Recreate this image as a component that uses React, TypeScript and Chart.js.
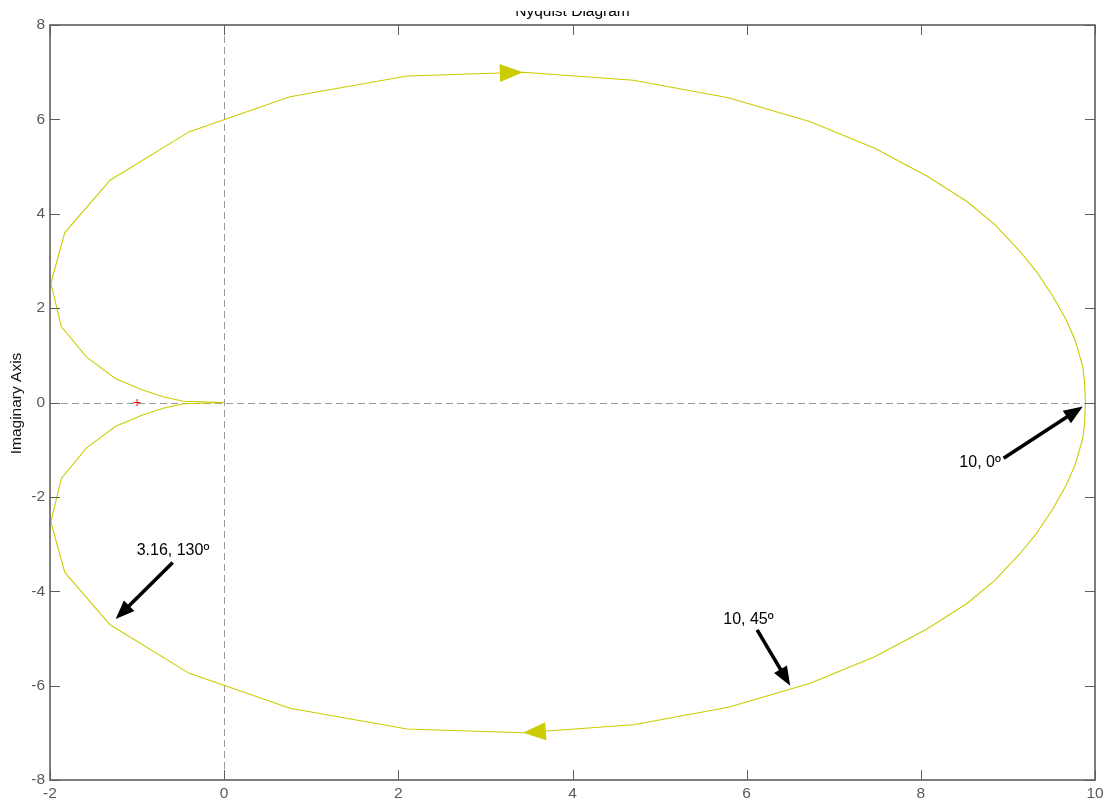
import { useEffect, useRef } from 'react';
import { Chart, registerables } from 'chart.js';

Chart.register(...registerables);

// Axis ticks
const X_TICKS = [-2, 0, 2, 4, 6, 8, 10];
const Y_TICKS = [-8, -6, -4, -2, 0, 2, 4, 6, 8];

// Frequency response G(jω), ω from 0 upward (real and imaginary parts)
const RE_POS = [
  9.89, 9.88, 9.86, 9.77, 9.67, 9.52, 9.33, 9.14, 8.85, 8.53, 8.07, 7.47, 6.73, 5.79, 4.7,
  3.43, 2.1, 0.756, -0.4, -1.31, -1.83, -1.99, -1.87, -1.58, -1.25, -0.945, -0.7, -0.467, 0,
];
const IM_POS = [
  0, -0.44, -0.76, -1.33, -1.75, -2.24, -2.77, -3.2, -3.77, -4.26, -4.8, -5.39, -5.95, -6.46,
  -6.83, -7.0, -6.92, -6.48, -5.74, -4.71, -3.6, -2.53, -1.61, -0.96, -0.51, -0.27, -0.12,
  -0.026, 0,
];

// Critical point -1 + j0
const CRITICAL_RE = [-1];
const CRITICAL_IM = [0];

// Callouts: label, label centre, arrow tail, arrow tip (in data units)
const NOTE_TEXT = ['10, 0º', '10, 45º', '3.16, 130º'];
const NOTE_AT = [[8.68, -1.28], [6.02, -4.61], [-0.588, -3.14]];
const NOTE_TAIL = [[8.95, -1.18], [6.12, -4.82], [-0.591, -3.39]];
const NOTE_TIP = [[9.86, -0.087], [6.5, -6.0], [-1.246, -4.59]];

const CURVE = '#cccc00';
const AXIS = '#5e5e5e';
const TICK_TEXT = '#5a5a5a';
const FONT = "'Liberation Sans', Arial, Helvetica, sans-serif";

type P = { x: number; y: number };

const posBranch: P[] = RE_POS.map((x, i) => ({ x, y: IM_POS[i] }));
// negative frequencies give the complex conjugate, traversed back towards ω = 0
const negBranch: P[] = posBranch
  .slice()
  .reverse()
  .map((p) => ({ x: p.x, y: -p.y }));
const nyquistPath: P[] = [...posBranch, ...negBranch.slice(1)];

// direction markers sit at the point of largest |Im|
let peak = 0;
IM_POS.forEach((v, i) => {
  if (Math.abs(v) > Math.abs(IM_POS[peak])) peak = i;
});

function fillTriangle(
  ctx: CanvasRenderingContext2D,
  tx: number,
  ty: number,
  fx: number,
  fy: number,
  len: number,
  half: number,
  color: string
) {
  const dx = tx - fx;
  const dy = ty - fy;
  const d = Math.hypot(dx, dy) || 1;
  const ux = dx / d;
  const uy = dy / d;
  const bx = tx - ux * len;
  const by = ty - uy * len;
  ctx.beginPath();
  ctx.moveTo(tx, ty);
  ctx.lineTo(bx - uy * half, by + ux * half);
  ctx.lineTo(bx + uy * half, by - ux * half);
  ctx.closePath();
  ctx.fillStyle = color;
  ctx.fill();
}

const nyquistDecor = {
  id: 'nyquistDecor',
  beforeDatasetsDraw(chart: any) {
    const { ctx, chartArea: a, scales } = chart;
    const xs = scales.x;
    const ys = scales.y;
    ctx.save();
    ctx.beginPath();
    ctx.rect(a.left, a.top, a.right - a.left, a.bottom - a.top);
    ctx.clip();
    ctx.strokeStyle = '#9a9a9a';
    ctx.lineWidth = 1;
    ctx.setLineDash([7, 4]);
    const x0 = Math.round(xs.getPixelForValue(0)) + 0.5;
    const y0 = Math.round(ys.getPixelForValue(0)) + 0.5;
    ctx.beginPath();
    ctx.moveTo(x0, a.top);
    ctx.lineTo(x0, a.bottom);
    ctx.moveTo(a.left, y0);
    ctx.lineTo(a.right, y0);
    ctx.stroke();
    ctx.restore();
  },
  afterDatasetsDraw(chart: any) {
    const { ctx, scales } = chart;
    const xs = scales.x;
    const ys = scales.y;
    const px = (p: P) => [xs.getPixelForValue(p.x), ys.getPixelForValue(p.y)];

    // direction of travel along the contour
    const tipA = px(posBranch[peak]);
    const fromA = px(posBranch[peak - 1]);
    fillTriangle(ctx, tipA[0], tipA[1], fromA[0], fromA[1], 23, 9, CURVE);
    const tipB = px({ x: posBranch[peak].x, y: -posBranch[peak].y });
    const fromB = px({ x: posBranch[peak + 1].x, y: -posBranch[peak + 1].y });
    fillTriangle(ctx, tipB[0], tipB[1], fromB[0], fromB[1], 23, 9, CURVE);

    // callouts
    ctx.save();
    NOTE_TEXT.forEach((text, i) => {
      const [tx, ty] = px({ x: NOTE_TIP[i][0], y: NOTE_TIP[i][1] });
      const [sx, sy] = px({ x: NOTE_TAIL[i][0], y: NOTE_TAIL[i][1] });
      const d = Math.hypot(tx - sx, ty - sy);
      const ux = (tx - sx) / d;
      const uy = (ty - sy) / d;
      ctx.strokeStyle = '#000';
      ctx.lineWidth = 3.6;
      ctx.lineCap = 'butt';
      ctx.beginPath();
      ctx.moveTo(sx, sy);
      ctx.lineTo(tx - ux * 14, ty - uy * 14);
      ctx.stroke();
      fillTriangle(ctx, tx, ty, sx, sy, 19, 7.5, '#000');
      const [lx, ly] = px({ x: NOTE_AT[i][0], y: NOTE_AT[i][1] });
      ctx.fillStyle = '#000';
      ctx.font = `16px ${FONT}`;
      ctx.textAlign = 'center';
      ctx.textBaseline = 'middle';
      ctx.fillText(text, lx, ly);
    });
    ctx.restore();
  },
  afterDraw(chart: any) {
    const { ctx, chartArea: a, scales } = chart;
    const xs = scales.x;
    const ys = scales.y;
    ctx.save();
    // frame
    ctx.strokeStyle = AXIS;
    ctx.lineWidth = 1.6;
    ctx.strokeRect(a.left, a.top, a.right - a.left, a.bottom - a.top);
    // inward tick marks on all four sides
    ctx.lineWidth = 1;
    ctx.beginPath();
    X_TICKS.forEach((v) => {
      const x = Math.round(xs.getPixelForValue(v)) + 0.5;
      ctx.moveTo(x, a.bottom);
      ctx.lineTo(x, a.bottom - 10);
      ctx.moveTo(x, a.top);
      ctx.lineTo(x, a.top + 10);
    });
    Y_TICKS.forEach((v) => {
      const y = Math.round(ys.getPixelForValue(v)) + 0.5;
      ctx.moveTo(a.left, y);
      ctx.lineTo(a.left + 10, y);
      ctx.moveTo(a.right, y);
      ctx.lineTo(a.right - 10, y);
    });
    ctx.stroke();
    ctx.restore();

    // title (top of the figure is trimmed)
    ctx.save();
    ctx.beginPath();
    ctx.rect(0, 11, chart.width, chart.height);
    ctx.clip();
    ctx.fillStyle = '#000';
    ctx.font = `15.5px ${FONT}`;
    ctx.textAlign = 'center';
    ctx.textBaseline = 'alphabetic';
    ctx.fillText('Nyquist Diagram', (a.left + a.right) / 2, 16);
    ctx.restore();

    // y-axis title
    ctx.save();
    ctx.translate(16.5, (a.top + a.bottom) / 2 + 1);
    ctx.rotate(-Math.PI / 2);
    ctx.fillStyle = '#111';
    ctx.font = `15.5px ${FONT}`;
    ctx.textAlign = 'center';
    ctx.textBaseline = 'middle';
    ctx.fillText('Imaginary Axis', 0, 0);
    ctx.restore();
  },
};

export default function App() {
  const ref = useRef<HTMLCanvasElement | null>(null);

  useEffect(() => {
    if (!ref.current) return;
    const chart = new Chart(ref.current, {
      type: 'scatter',
      data: {
        datasets: [
          {
            data: nyquistPath,
            showLine: true,
            borderColor: CURVE,
            borderWidth: 1.1,
            pointRadius: 0,
            tension: 0,
          },
          {
            data: CRITICAL_RE.map((x, i) => ({ x, y: CRITICAL_IM[i] })),
            showLine: false,
            pointStyle: 'cross',
            pointRadius: 3.5,
            borderColor: '#ff0000',
            borderWidth: 1,
          },
        ],
      },
      options: {
        animation: false,
        responsive: false,
        devicePixelRatio: 1,
        layout: { padding: { top: 25, right: 19, left: 0, bottom: 0 } },
        plugins: {
          legend: { display: false },
          title: { display: false },
          tooltip: { enabled: false },
        },
        scales: {
          x: {
            type: 'linear',
            min: -2,
            max: 10,
            afterBuildTicks: (s: any) => {
              s.ticks = X_TICKS.map((value) => ({ value }));
            },
            afterFit: (s: any) => {
              s.height = 25;
            },
            grid: { display: false, drawTicks: false },
            border: { display: false },
            ticks: {
              color: TICK_TEXT,
              font: { size: 15.5, family: FONT },
              padding: 4,
              maxRotation: 0,
              autoSkip: false,
            },
          },
          y: {
            type: 'linear',
            min: -8,
            max: 8,
            afterBuildTicks: (s: any) => {
              s.ticks = Y_TICKS.map((value) => ({ value }));
            },
            afterFit: (s: any) => {
              s.width = 50;
            },
            grid: { display: false, drawTicks: false },
            border: { display: false },
            ticks: {
              color: TICK_TEXT,
              font: { size: 15.5, family: FONT },
              padding: 5,
              autoSkip: false,
            },
          },
        },
      },
      plugins: [nyquistDecor],
    });
    return () => chart.destroy();
  }, []);

  return (
    <div
      style={{
        position: 'fixed',
        left: 0,
        top: 0,
        width: 1114,
        height: 805,
        background: '#fff',
      }}
    >
      <canvas ref={ref} width={1114} height={805} style={{ display: 'block' }} />
    </div>
  );
}
